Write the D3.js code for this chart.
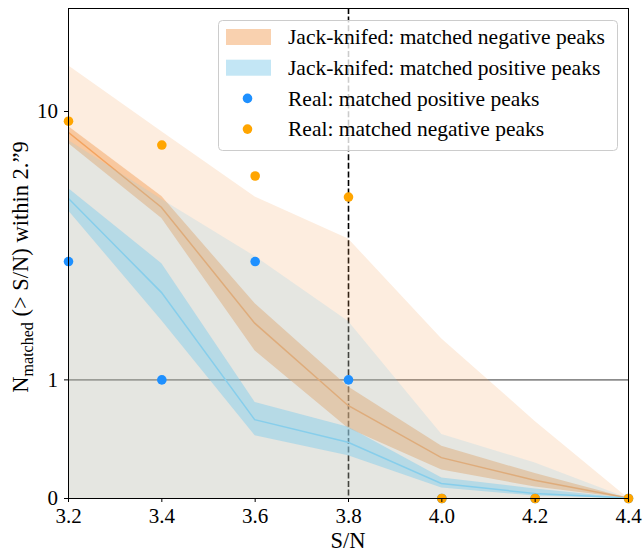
<!DOCTYPE html>
<head>
    <style>
        body { margin: 0; background: #fff; }
        svg { display: block; font-family: "Liberation Serif", "DejaVu Serif", serif; }
    </style>
</head>
<body>
    <script src="https://d3js.org/d3.v7.min.js"></script>
    <script>
        // S/N thresholds
        var snr = [3.2, 3.4, 3.6, 3.8, 4.0, 4.2, 4.4];

        // jack-knifed negative peaks: wide band, inner band, median
        var negWideLo = [0, 0, 0, 0, 0, 0, 0];
        var negWideHi = [14.8, 8.4, 4.8, 3.35, 1.42, 0.65, 0];
        var negBandLo = [7.6, 3.99, 1.28, 0.59, 0.24, 0.097, 0];
        var negBandHi = [8.8, 4.82, 1.92, 0.94, 0.44, 0.21, 0];
        var negMid    = [8.35, 4.38, 1.62, 0.78, 0.34, 0.15, 0];

        // jack-knifed positive peaks
        var posWideLo = [0, 0, 0, 0, 0, 0, 0];
        var posWideHi = [7.8, 4.7, 2.88, 1.65, 0.54, 0.3, 0];
        var posBandLo = [4.27, 1.66, 0.53, 0.36, 0.089, 0.021, 0];
        var posBandHi = [5.16, 2.71, 0.81, 0.6, 0.173, 0.08, 0];
        var posMid    = [4.74, 2.11, 0.66, 0.47, 0.122, 0.038, 0];

        // real catalogue counts
        var realPos = [2.76, 1, 2.76, 1, 0, 0, 0];
        var realNeg = [9.2, 7.5, 5.75, 4.8, 0, 0, 0];

        var xTicks = [3.2, 3.4, 3.6, 3.8, 4.0, 4.2, 4.4];
        var yTicks = [0, 1, 10];
        var yTickLabels = ['0', '1', '10'];
        var cutSnr = 3.8;
        var refLine = 1;

        var legendLabels = [
            'Jack-knifed: matched negative peaks',
            'Jack-knifed: matched positive peaks',
            'Real: matched positive peaks',
            'Real: matched negative peaks'
        ];

        var W = 643, H = 552;
        var m = {left: 68, top: 8, right: 15, bottom: 54};
        var w = W - m.left - m.right, h = H - m.top - m.bottom;

        // symlog like matplotlib: linear below 1, log above
        var K = 0.442;
        var tf = v => v <= 1 ? v * K : K + Math.log10(v);

        var x = d3.scaleLinear().domain([3.2, 4.4]).range([0, w]);
        var yT = d3.scaleLinear().domain([0, tf(24.2)]).range([h, 0]);
        var y = v => yT(tf(v));

        var svg = d3.select('body').append('svg')
                    .attr('width', W).attr('height', H);
        var g = svg.append('g').attr('transform', `translate(${m.left},${m.top})`);

        g.append('clipPath').attr('id', 'clip')
         .append('rect').attr('width', w).attr('height', h);
        var plot = g.append('g').attr('clip-path', 'url(#clip)');

        // reference lines (under the fills)
        plot.append('line')
            .attr('x1', x(cutSnr) + 0.5).attr('x2', x(cutSnr) + 0.5)
            .attr('y1', 0).attr('y2', h)
            .attr('stroke', '#000').attr('stroke-width', 1.6)
            .attr('stroke-dasharray', '6,2.6');
        plot.append('line')
            .attr('x1', 0).attr('x2', w)
            .attr('y1', y(refLine) + 0.5).attr('y2', y(refLine) + 0.5)
            .attr('stroke', '#8c8c8c').attr('stroke-width', 1.6);

        function band(lo, hi, color, op) {
            var area = d3.area()
                         .x((d, i) => x(snr[i]))
                         .y0((d, i) => y(lo[i]))
                         .y1((d, i) => y(hi[i]));
            plot.append('path').datum(snr)
                .attr('d', area)
                .attr('fill', color).attr('fill-opacity', op);
        }
        function line(vals, color) {
            var ln = d3.line().x((d, i) => x(snr[i])).y(d => y(d));
            plot.append('path').datum(vals)
                .attr('d', ln)
                .attr('fill', 'none').attr('stroke', color).attr('stroke-width', 1.5);
        }

        band(negWideLo, negWideHi, 'sandybrown', 0.2);
        band(negBandLo, negBandHi, 'sandybrown', 0.5);
        line(negMid, 'sandybrown');
        band(posWideLo, posWideHi, 'skyblue', 0.2);
        band(posBandLo, posBandHi, 'skyblue', 0.5);
        line(posMid, 'skyblue');

        function dots(vals, color) {
            g.append('g').selectAll('circle')
             .data(vals).enter().append('circle')
             .attr('cx', (d, i) => x(snr[i]) + 0.5)
             .attr('cy', d => y(d) + 0.5)
             .attr('r', 4.8)
             .attr('fill', color);
        }
        dots(realPos, 'dodgerblue');
        dots(realNeg, 'orange');

        // frame
        g.append('rect').attr('x', 0.5).attr('y', 0.5)
         .attr('width', w).attr('height', h)
         .attr('fill', 'none').attr('stroke', '#000').attr('stroke-width', 1);

        var xAxis = g.append('g').attr('transform', `translate(0,${h})`)
                     .call(d3.axisBottom(x).tickValues(xTicks).tickFormat(d3.format('.1f')).tickSizeOuter(0).tickSize(4).tickPadding(4));
        var yAxis = g.append('g')
                     .call(d3.axisLeft(yT).tickValues(yTicks.map(tf)).tickFormat((d, i) => yTickLabels[i]).tickSizeOuter(0).tickSize(4).tickPadding(6));
        [xAxis, yAxis].forEach(a => {
            a.select('.domain').remove();
            a.selectAll('.tick line').attr('stroke', '#000');
            a.selectAll('text').attr('fill', '#000')
             .style('font-family', '"Liberation Serif", serif').style('font-size', '21px');
        });
        xAxis.selectAll('text').attr('dy', '0.8em');

        svg.append('text')
           .attr('x', m.left + x(cutSnr)).attr('y', 548)
           .attr('text-anchor', 'middle').style('font-size', '22.5px')
           .text('S/N');

        var yl = svg.append('text')
                    .attr('transform', `translate(28,${m.top + h / 2 + 14}) rotate(-90)`)
                    .attr('text-anchor', 'middle').style('font-size', '22.5px');
        yl.append('tspan').text('N');
        yl.append('tspan').attr('dy', 5).style('font-size', '16px').text('matched');
        yl.append('tspan').attr('dy', -5).text(' (> S/N) within 2.\u201D9');

        // legend
        var lg = svg.append('g').attr('transform', 'translate(218,20)');
        lg.append('rect').attr('x', 0.5).attr('y', 0.5)
          .attr('width', 399).attr('height', 130).attr('rx', 4)
          .attr('fill', '#fff').attr('fill-opacity', 0.8)
          .attr('stroke', '#cccccc');
        var rows = lg.selectAll('g.row').data(legendLabels).enter().append('g')
                     .attr('transform', (d, i) => `translate(0,${17 + i * 30.7})`);
        rows.filter((d, i) => i < 2).append('rect')
            .attr('x', 8).attr('y', -8).attr('width', 45).attr('height', 16)
            .attr('fill', (d, i) => i === 0 ? 'sandybrown' : 'skyblue')
            .attr('fill-opacity', 0.5);
        rows.filter((d, i) => i >= 2).append('circle')
            .attr('cx', 29.5).attr('cy', 0).attr('r', 4.8)
            .attr('fill', (d, i) => i === 0 ? 'dodgerblue' : 'orange');
        rows.append('text')
            .attr('x', 70).attr('y', 0).attr('dy', '0.33em')
            .style('font-size', '21.5px')
            .text(d => d);
    </script>
</body>
